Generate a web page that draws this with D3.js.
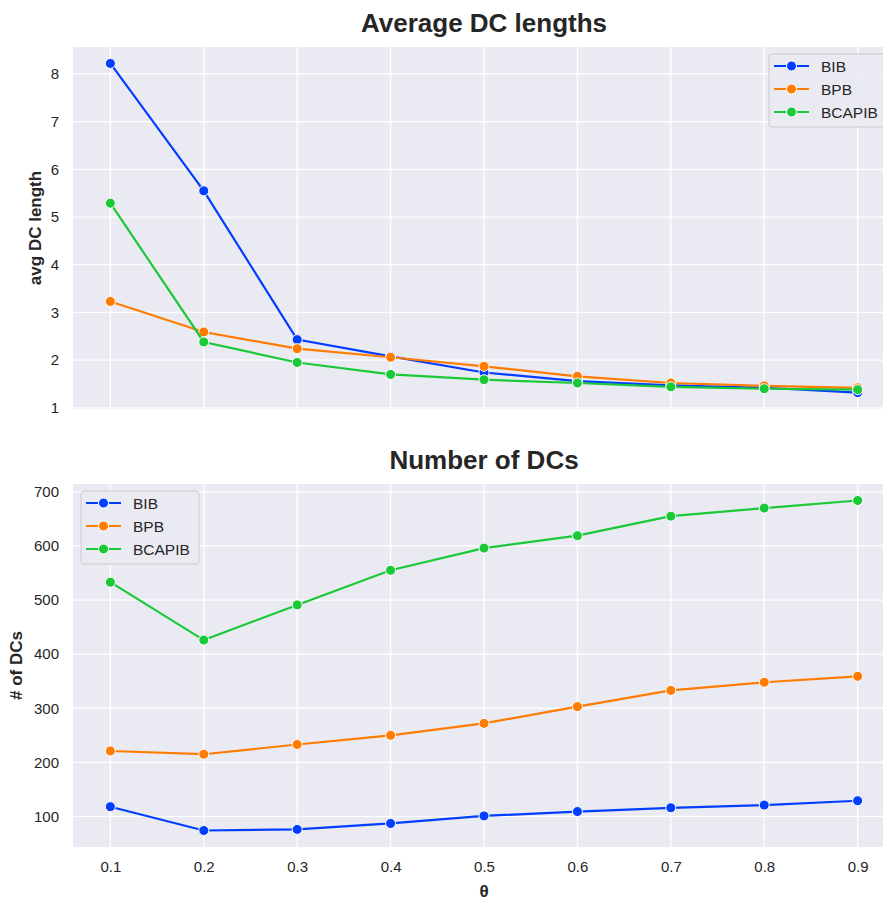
<!DOCTYPE html>
<html>
<head>
<meta charset="utf-8">
<script src="https://cdn.jsdelivr.net/npm/d3@7"></script>
<style>
  body { margin: 0; background: #fff; }
  text { font-family: "Liberation Sans", Arial, sans-serif; fill: #262626; }
</style>
</head>
<body>
<div id="chart"></div>
<script>
const thetas = [0.1, 0.2, 0.3, 0.4, 0.5, 0.6, 0.7, 0.8, 0.9];
const seriesNames = ['BIB', 'BPB', 'BCAPIB'];
const colors = ['#023eff', '#ff7c00', '#1ac938'];

// avg DC length per theta
const avgBIB = [8.22, 5.55, 2.43, 2.08, 1.74, 1.56, 1.47, 1.42, 1.32];
const avgBPB = [3.23, 2.59, 2.24, 2.06, 1.87, 1.66, 1.52, 1.46, 1.42];
const avgBCAPIB = [5.29, 2.38, 1.95, 1.70, 1.59, 1.52, 1.44, 1.40, 1.38];

// number of DCs per theta
const numBIB = [118, 74, 76, 87, 101, 109, 116, 121, 129];
const numBPB = [221, 215, 233, 250, 272, 303, 333, 348, 359];
const numBCAPIB = [533, 426, 491, 555, 596, 619, 655, 670, 684];

const yTicksTop = [1, 2, 3, 4, 5, 6, 7, 8];
const yTicksBottom = [100, 200, 300, 400, 500, 600, 700];

const width = 883, height = 904;
const left = 73, right = 895;

const svg = d3.select('#chart').append('svg')
    .attr('width', width)
    .attr('height', height);

const pad = (lo, hi) => { const m = (hi - lo) * 0.05; return [lo - m, hi + m]; };

const xScale = d3.scaleLinear()
    .domain(pad(0.1, 0.9))
    .range([left, right]);

function panel(opts) {
    const g = svg.append('g');
    const all = opts.series.flat();
    const yScale = d3.scaleLinear()
        .domain(pad(d3.min(all), d3.max(all)))
        .range([opts.bottom, opts.top]);

    g.append('rect')
        .attr('x', left).attr('y', opts.top)
        .attr('width', right - left).attr('height', opts.bottom - opts.top)
        .attr('fill', '#eaeaf2');

    // grid
    g.selectAll('.vgrid').data(thetas).enter().append('line')
        .attr('x1', d => xScale(d)).attr('x2', d => xScale(d))
        .attr('y1', opts.top).attr('y2', opts.bottom)
        .attr('stroke', '#fff').attr('stroke-width', 1.3);
    g.selectAll('.hgrid').data(opts.yTicks).enter().append('line')
        .attr('x1', left).attr('x2', right)
        .attr('y1', d => yScale(d)).attr('y2', d => yScale(d))
        .attr('stroke', '#fff').attr('stroke-width', 1.3);

    const yAxis = d3.axisLeft(yScale).tickValues(opts.yTicks).tickSize(0).tickPadding(14);
    const yAxisG = g.append('g').attr('transform', 'translate(' + left + ',0)').call(yAxis);
    yAxisG.select('.domain').remove();
    yAxisG.selectAll('text').style('font-size', '15px').attr('fill', '#262626');

    if (opts.showX) {
        const xAxis = d3.axisBottom(xScale).tickValues(thetas).tickSize(0).tickPadding(14)
            .tickFormat(d3.format('.1f'));
        const xAxisG = g.append('g').attr('transform', 'translate(0,' + opts.bottom + ')').call(xAxis);
        xAxisG.select('.domain').remove();
        xAxisG.selectAll('text').style('font-size', '15px').attr('fill', '#262626');
        svg.append('text')
            .attr('x', (left + right) / 2).attr('y', 897)
            .attr('text-anchor', 'middle')
            .style('font-size', '17px').style('font-weight', 'bold')
            .text('θ');
    }

    svg.append('text')
        .attr('x', (left + right) / 2).attr('y', opts.top - 15)
        .attr('text-anchor', 'middle')
        .style('font-size', '26px').style('font-weight', 'bold')
        .text(opts.title);

    svg.append('text')
        .attr('transform', 'translate(' + opts.ylabelX + ',' + (opts.top + opts.bottom) / 2 + ') rotate(-90)')
        .attr('text-anchor', 'middle')
        .style('font-size', '17px').style('font-weight', 'bold')
        .text(opts.ylabel);

    const line = d3.line()
        .x((d, i) => xScale(thetas[i]))
        .y(d => yScale(d));

    opts.series.forEach((vals, k) => {
        g.append('path')
            .datum(vals)
            .attr('fill', 'none')
            .attr('stroke', colors[k])
            .attr('stroke-width', 2.2)
            .attr('d', line);
        g.selectAll('.pt' + k).data(vals).enter().append('circle')
            .attr('cx', (d, i) => xScale(thetas[i]))
            .attr('cy', d => yScale(d))
            .attr('r', 5)
            .attr('fill', colors[k])
            .attr('stroke', '#fff').attr('stroke-width', 1);
    });

    // legend
    const lg = svg.append('g').attr('transform', 'translate(' + opts.legendX + ',' + opts.legendY + ')');
    lg.append('rect')
        .attr('x', 0).attr('y', 0)
        .attr('width', 118).attr('height', 73)
        .attr('rx', 3)
        .attr('fill', '#eaeaf2').attr('fill-opacity', 0.8)
        .attr('stroke', '#cccccc');
    seriesNames.forEach((name, k) => {
        const yy = 12 + k * 23;
        lg.append('line')
            .attr('x1', 5).attr('x2', 40).attr('y1', yy).attr('y2', yy)
            .attr('stroke', colors[k]).attr('stroke-width', 2.2);
        lg.append('circle')
            .attr('cx', 22.5).attr('cy', yy).attr('r', 5)
            .attr('fill', colors[k]).attr('stroke', '#fff').attr('stroke-width', 1);
        lg.append('text')
            .attr('x', 52).attr('y', yy + 5.5)
            .style('font-size', '15.5px')
            .text(name);
    });
}

panel({
    title: 'Average DC lengths',
    ylabel: 'avg DC length',
    ylabelX: 41,
    top: 47, bottom: 409,
    series: [avgBIB, avgBPB, avgBCAPIB],
    yTicks: yTicksTop,
    showX: false,
    legendX: 769, legendY: 54
});

panel({
    title: 'Number of DCs',
    ylabel: '# of DCs',
    ylabelX: 22,
    top: 484, bottom: 847,
    series: [numBIB, numBPB, numBCAPIB],
    yTicks: yTicksBottom,
    showX: true,
    legendX: 81, legendY: 491
});
</script>
</body>
</html>
